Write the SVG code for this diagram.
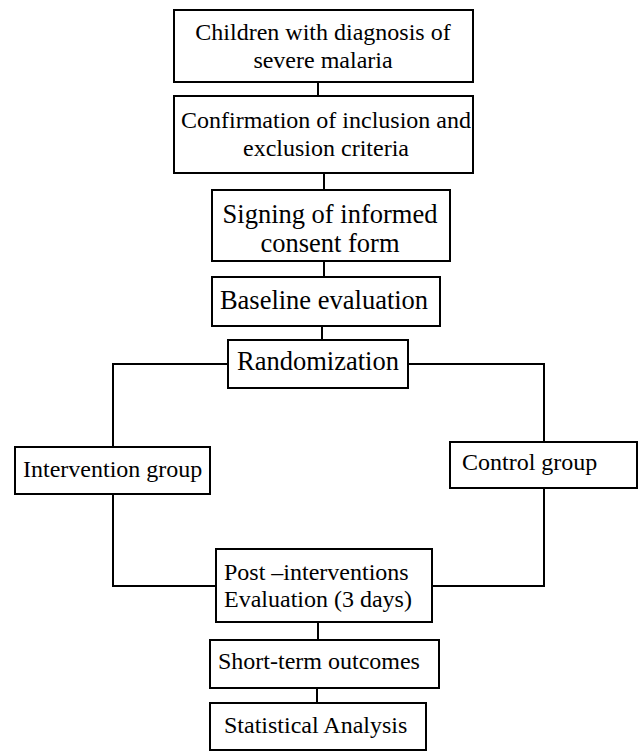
<svg xmlns="http://www.w3.org/2000/svg" width="638" height="752" viewBox="0 0 638 752">
<style>
.box{fill:#fff;stroke:#000;stroke-width:2}
.t{font-family:"Liberation Serif","Times New Roman",serif;font-size:24px;fill:#000}
.tl{font-family:"Liberation Serif","Times New Roman",serif;font-size:26.5px;fill:#000}
.c{text-anchor:middle}
.ln{fill:none;stroke:#000;stroke-width:2}
</style>
<rect width="638" height="752" fill="#fff"/>
<g id="connectors">
<line class="ln" x1="318" y1="82" x2="318" y2="96"/>
<line class="ln" x1="324" y1="173" x2="324" y2="190"/>
<line class="ln" x1="324" y1="261" x2="324" y2="277"/>
<line class="ln" x1="322" y1="326" x2="322" y2="340"/>
<polyline class="ln" points="228,364 113,364 113,447"/>
<polyline class="ln" points="408,364 544,364 544,442"/>
<polyline class="ln" points="113,494 113,586 216,586"/>
<polyline class="ln" points="544,488 544,586 432,586"/>
<line class="ln" x1="318" y1="622" x2="318" y2="640"/>
<line class="ln" x1="317" y1="688" x2="317" y2="703"/>
</g>
<g id="n1">
<rect class="box" x="174" y="10" width="299" height="72"/>
<text class="t c" x="323" y="40">Children with diagnosis of</text>
<text class="t c" x="323" y="68">severe malaria</text>
</g>
<g id="n2">
<rect class="box" x="174" y="96" width="299" height="77"/>
<text class="t c" x="326" y="128">Confirmation of inclusion and</text>
<text class="t c" x="326" y="156">exclusion criteria</text>
</g>
<g id="n3">
<rect class="box" x="212" y="190" width="238" height="71"/>
<text class="tl c" x="330" y="223">Signing of informed</text>
<text class="tl c" x="330" y="252">consent form</text>
</g>
<g id="n4">
<rect class="box" x="212" y="277" width="228" height="49"/>
<text class="tl c" x="324" y="309">Baseline evaluation</text>
</g>
<g id="n5">
<rect class="box" x="228" y="340" width="180" height="48"/>
<text class="tl c" x="318" y="370">Randomization</text>
</g>
<g id="n6">
<rect class="box" x="15" y="447" width="195" height="47"/>
<text class="t" x="23" y="477">Intervention group</text>
</g>
<g id="n7">
<rect class="box" x="450" y="442" width="187" height="46"/>
<text class="t" x="462" y="470">Control group</text>
</g>
<g id="n8">
<rect class="box" x="216" y="549" width="216" height="73"/>
<text class="t" x="224" y="580">Post –interventions</text>
<text class="t" x="224" y="607">Evaluation (3 days)</text>
</g>
<g id="n9">
<rect class="box" x="210" y="640" width="229" height="48"/>
<text class="t" x="218" y="669">Short-term outcomes</text>
</g>
<g id="n10">
<rect class="box" x="210" y="703" width="216" height="47"/>
<text class="t" x="224" y="733">Statistical Analysis</text>
</g>
</svg>
